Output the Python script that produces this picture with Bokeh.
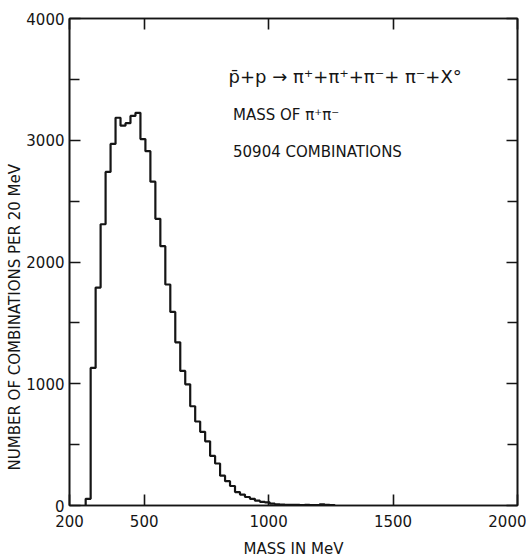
from bokeh.plotting import figure
from bokeh.models import LinearAxis, FixedTicker, Label, Title
from bokeh.embed import file_html
from bokeh.resources import INLINE

# ---- data ----
bin_start = 265          # MeV, left edge of first bin
bin_width = 20           # MeV per bin
counts = [55, 1130, 1790, 2310, 2740, 2970, 3185, 3120, 3140, 3200, 3225,
          3010, 2910, 2660, 2355, 2130, 1815, 1590, 1340, 1105, 995,
          815, 690, 605, 527, 407, 345, 245, 200, 160, 110,
          90, 70, 55, 40, 30, 25, 15, 10, 8, 6,
          6, 5, 4, 5, 4, 3, 10, 6, 4]
x_ticks = [200, 500, 1000, 1500, 2000]
y_ticks = [0, 1000, 2000, 3000, 4000]
y_minor = [500, 1500, 2500, 3500]

edges = [bin_start + bin_width * i for i in range(len(counts) + 1)]
xs = [edges[0]] + edges
ys = [0] + counts + [0]

FONT = "DejaVu Sans"
INK = "#151515"

p = figure(width=526, height=560, x_range=(200, 2000), y_range=(0, 4000),
           output_backend="svg", toolbar_location=None,
           min_border_left=69, min_border_right=9, min_border_top=18,
           min_border_bottom=54, x_axis_location=None, y_axis_location=None)
p.grid.visible = False
p.outline_line_color = INK
p.outline_line_width = 1.6
p.background_fill_color = "white"
p.border_fill_color = "white"

p.step(xs, ys, mode="after", line_color=INK, line_width=2.2)

def style(ax, ticker, labels=True):
    ax.ticker = ticker
    ax.major_tick_in = 11
    ax.major_tick_out = 0
    ax.minor_tick_in = 10
    ax.minor_tick_out = 0
    ax.major_tick_line_color = INK
    ax.minor_tick_line_color = INK
    ax.major_tick_line_width = 1.6
    ax.minor_tick_line_width = 1.6
    ax.axis_line_color = INK
    ax.axis_line_width = 1.6
    if labels:
        ax.major_label_text_font = FONT
        ax.major_label_text_font_size = "15px"
        ax.major_label_text_color = INK
    else:
        ax.major_label_text_font_size = "1px"
        ax.major_label_text_color = None
        ax.major_label_standoff = 0

xt = FixedTicker(ticks=x_ticks)
yt = FixedTicker(ticks=y_ticks, minor_ticks=y_minor)

bottom = LinearAxis()
style(bottom, xt)
bottom.major_label_standoff = 9
bottom.axis_label = "MASS IN MeV"
bottom.axis_label_text_font = FONT
bottom.axis_label_text_font_size = "15px"
bottom.axis_label_text_font_style = "normal"
bottom.axis_label_text_color = INK
bottom.axis_label_standoff = 10
p.add_layout(bottom, "below")

left = LinearAxis()
style(left, yt)
left.major_label_standoff = 5
p.add_layout(left, "left")

top = LinearAxis()
style(top, FixedTicker(ticks=x_ticks), labels=False)
p.add_layout(top, "above")

right = LinearAxis()
style(right, FixedTicker(ticks=y_ticks, minor_ticks=y_minor), labels=False)
p.add_layout(right, "right")

ylab = Title(text="NUMBER OF COMBINATIONS PER 20 MeV", align="left", offset=35,
             text_font=FONT, text_font_size="15px", text_font_style="normal",
             text_color=INK, standoff=0)
p.add_layout(ylab, "left")

p.add_layout(Label(x=839, y=3525, text="p\u0304+p \u2192 \u03c0\u207a+\u03c0\u207a+\u03c0\u207b+ \u03c0\u207b+X\u00b0",
                   text_align="left", text_baseline="middle", text_font=FONT,
                   text_font_size="18px", text_color=INK))
p.add_layout(Label(x=857, y=3205, text="MASS OF \u03c0\u207a\u03c0\u207b",
                   text_align="left", text_baseline="middle", text_font=FONT,
                   text_font_size="15px", text_color=INK))
p.add_layout(Label(x=857, y=2906, text="50904 COMBINATIONS",
                   text_align="left", text_baseline="middle", text_font=FONT,
                   text_font_size="15px", text_color=INK))

open("out.html", "w").write(file_html(p, INLINE))
